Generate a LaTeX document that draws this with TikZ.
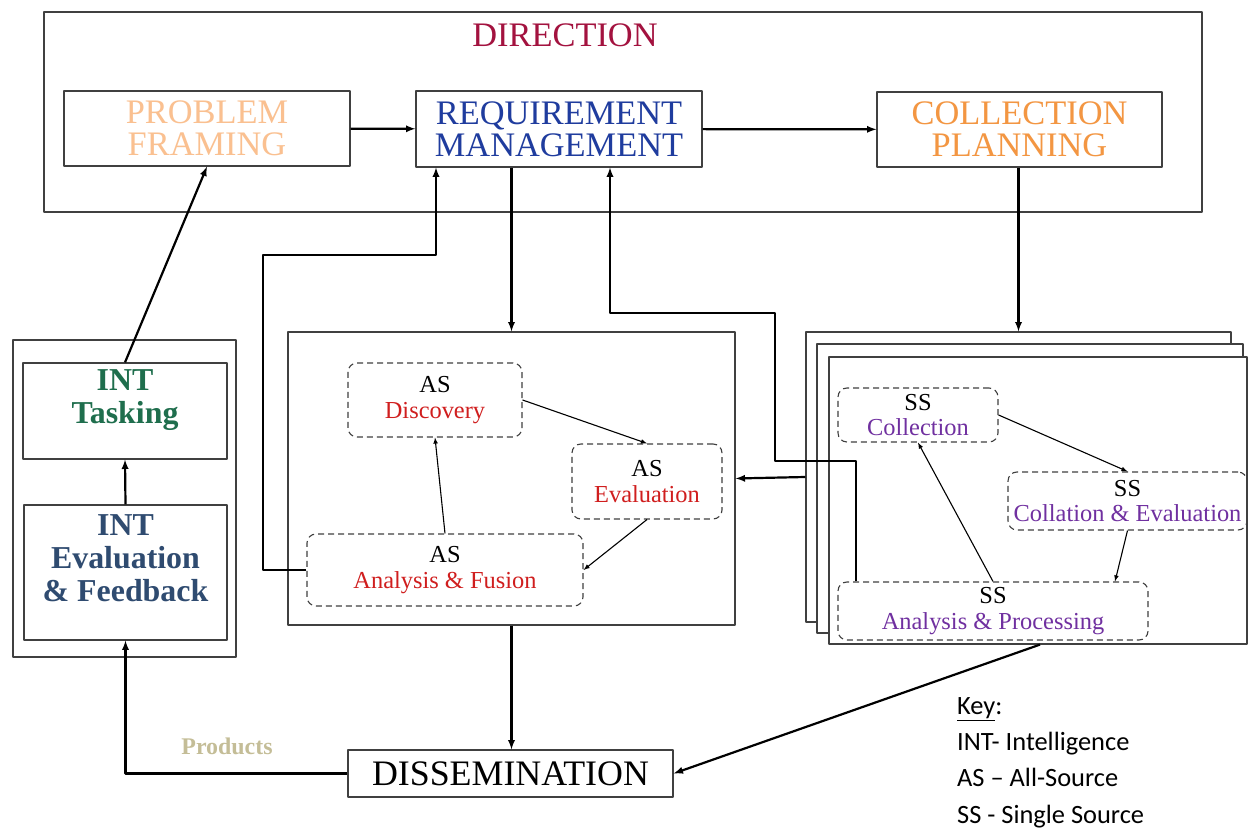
\documentclass[tikz,border=0pt]{standalone}
\usepackage{fontspec}
\setmainfont{Liberation Serif}
\newfontfamily\keyfont{Carlito}
\usetikzlibrary{positioning}
\definecolor{boxgray}{HTML}{404040}
\definecolor{dircol}{HTML}{A3123F}
\definecolor{pfcol}{HTML}{FAC090}
\definecolor{rmcol}{HTML}{1F3C9E}
\definecolor{cpcol}{HTML}{F39642}
\definecolor{taskcol}{HTML}{1F6E4D}
\definecolor{evalcol}{HTML}{2F4B70}
\definecolor{asred}{HTML}{D01E1E}
\definecolor{sspurple}{HTML}{7030A0}
\definecolor{prodcol}{HTML}{C4BD97}
\begin{document}
\begin{tikzpicture}[>=latex,line join=bevel,
    box/.style={draw=boxgray,line width=1.2bp,rectangle,inner sep=0pt,fill=white},
    dbox/.style={draw=boxgray,line width=1.1bp,dash pattern=on 6bp off 4bp,rounded corners=9bp,rectangle,inner sep=0pt,align=center,font=\fontsize{24.5}{26}\selectfont},
    big/.style={font=\fontsize{34.5}{32}\selectfont,align=center},
    intlabel/.style={font=\bfseries\fontsize{32}{33}\selectfont,align=center},
    link/.style={->,line width=2.2bp},
    flow/.style={->,line width=1.1bp},
]
    \useasboundingbox (0bp,0bp) rectangle (1248bp,831bp);
    %%
    \node (dir) at (623bp,719bp) [box,minimum width=1158bp,minimum height=200bp] {};
    \node (dirlabel) at (565bp,796bp) [big,text=dircol] {DIRECTION};
    \node (pf) at (207bp,702.5bp) [box,big,minimum width=286bp,minimum height=75bp,text=pfcol] {PROBLEM\\FRAMING};
    \node (rm) at (559bp,702bp) [box,big,minimum width=286bp,minimum height=76bp,text=rmcol] {REQUIREMENT\\MANAGEMENT};
    \node (cp) at (1019.5bp,701.5bp) [box,big,minimum width=285bp,minimum height=75bp,text=cpcol] {COLLECTION\\PLANNING};
    %%
    \node (int) at (124.5bp,332.5bp) [box,minimum width=223bp,minimum height=317bp] {};
    \node (inttask) at (125bp,420bp) [box,minimum width=204bp,minimum height=96bp] {};
    \node (inttasklabel) at ([yshift=11bp]inttask.center) [intlabel,text=taskcol] {INT\\Tasking};
    \node (inteval) at (125.5bp,258.5bp) [box,minimum width=203bp,minimum height=135bp] {};
    \node (intevallabel) at ([yshift=14bp]inteval.center) [intlabel,text=evalcol] {INT\\Evaluation\\\& Feedback};
    %%
    \node (asbox) at (511.5bp,352.5bp) [box,minimum width=447bp,minimum height=293bp] {};
    \node (asdisc) at (435bp,431bp) [dbox,minimum width=174bp,minimum height=74bp] {AS\\\textcolor{asred}{Discovery}};
    \node (aseval) at (647bp,349.5bp) [dbox,minimum width=150bp,minimum height=75bp] {AS\\\textcolor{asred}{Evaluation}};
    \node (asaf) at (445bp,261bp) [dbox,minimum width=276bp,minimum height=72bp] {AS\\\textcolor{asred}{Analysis \& Fusion}};
    %%
    \node (ss1) at (1018.5bp,354bp) [box,minimum width=425bp,minimum height=290bp] {};
    \node (ss2) at (1030bp,342.5bp) [box,minimum width=426bp,minimum height=289bp] {};
    \node (ss3) at (1038bp,330.5bp) [box,minimum width=418bp,minimum height=287bp] {};
    \node (sscol) at (918bp,416bp) [dbox,minimum width=160bp,minimum height=54bp] {SS\\\textcolor{sspurple}{Collection}};
    \node (ssce) at (1127.5bp,330bp) [dbox,minimum width=239bp,minimum height=58bp] {SS\\\textcolor{sspurple}{Collation \& Evaluation}};
    \node (ssap) at (993bp,220bp) [dbox,minimum width=310bp,minimum height=58bp] {SS\\\textcolor{sspurple}{Analysis \& Processing}};
    %%
    \node (diss) at (510.5bp,57.5bp) [box,font=\fontsize{36}{36}\selectfont,minimum width=325bp,minimum height=47bp] {DISSEMINATION};
    \node (products) at (227bp,85bp) [font=\bfseries\fontsize{24}{24}\selectfont,text=prodcol] {Products};
    \node (key) at (957bp,134bp) [anchor=north west,inner sep=0pt,align=left,font=\keyfont\fontsize{26.5}{36.5}\selectfont] {\underline{Key}:\\INT- Intelligence\\AS – All-Source\\SS - Single Source};
    %%
    \draw [link] (pf) -- (rm);
    \draw [link] (rm) -- (cp);
    \draw [link] (inttask.north) -- (pf.south);
    \draw [link] (inteval.north) -- (inttask.south);
    \draw [link] (rm.south -| asbox.north) -- (asbox.north);
    \draw [link] (cp.south -| ss1.north) -- (ss1.north);
    \draw [link] (asaf.west) -| (263bp,576bp) -| ([xshift=-123bp]rm.south);
    \draw [link] ([xshift=-137bp]ssap.north) |- (775bp,370bp) -- (775bp,518bp) -| ([xshift=51bp]rm.south);
    \draw [link] (ss1.west) -- (asbox.west -| asbox.east);
    \draw [link] (asbox.south) -- (asbox.south |- diss.north);
    \draw [link] (diss.west) -| (inteval.south);
    \draw [link] ([xshift=2bp]ss3.south) -- (diss.east);
    %
    \draw [flow] (asdisc.east) -- (aseval.north);
    \draw [flow] (aseval.south) -- (asaf.east);
    \draw [flow] (asaf.north) -- (asdisc.south);
    \draw [flow] (sscol.east) -- (ssce.north);
    \draw [flow] (ssce.south) -- ([xshift=122bp]ssap.north);
    \draw [flow] (ssap.north) -- (sscol.south);
    %
\end{tikzpicture}
\end{document}
